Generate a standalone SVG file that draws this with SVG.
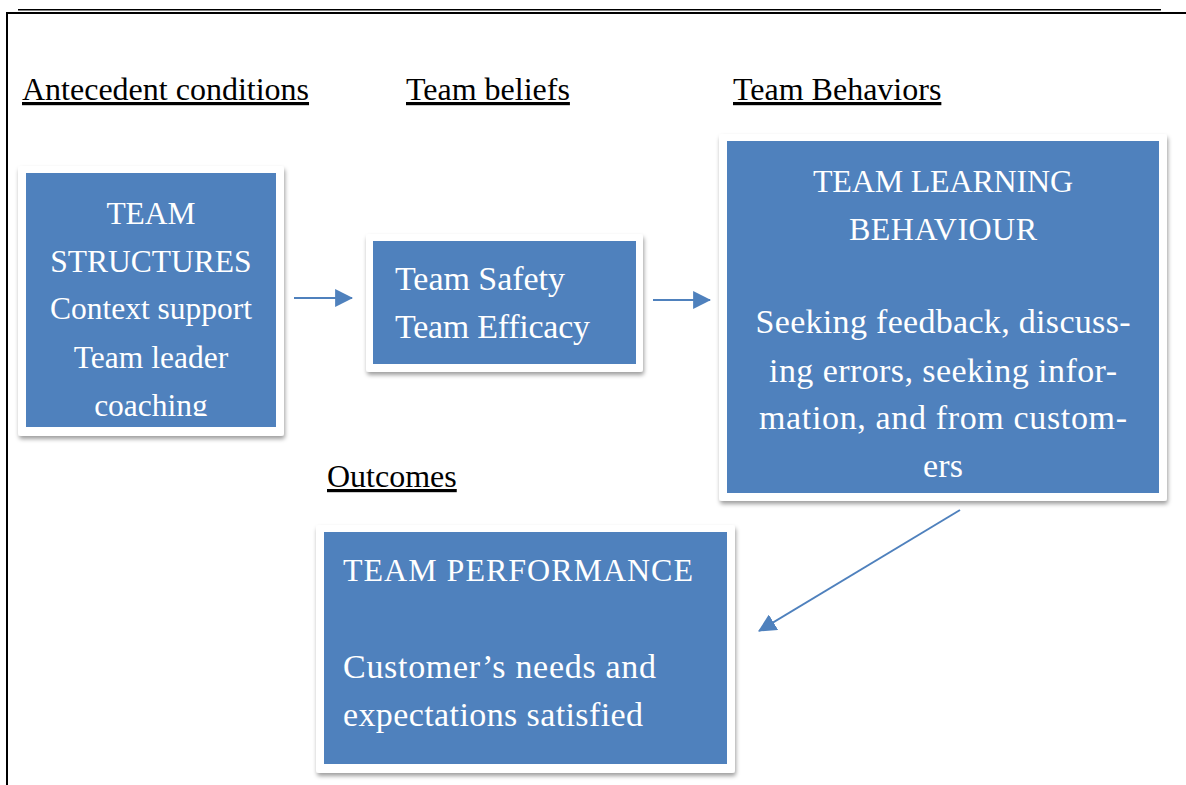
<svg xmlns="http://www.w3.org/2000/svg" width="1186" height="785" viewBox="0 0 1186 785">
<style>
.frame{stroke:#000;fill:none}
.head{font-family:"Liberation Serif","Times New Roman",serif;font-size:32px;fill:#000;text-decoration:underline}
.card{fill:#fff;filter:url(#sh)}
.blue{fill:#4F81BD}
.tx{font-family:"Liberation Serif","Times New Roman",serif;font-size:31.5px;fill:#fff}
.pt{font-family:"Liberation Serif","Palatino Linotype",serif;font-size:34px;fill:#fff}
.cap{font-size:32px}
.mid{text-anchor:middle}
.conn{stroke:#4F81BD;stroke-width:2;fill:none;marker-end:url(#ah)}
</style>
<defs>
<filter id="sh" x="-10%" y="-10%" width="120%" height="125%">
<feDropShadow dx="1" dy="3" stdDeviation="2.2" flood-color="#000" flood-opacity="0.38"/>
</filter>
<marker id="ah" markerUnits="userSpaceOnUse" markerWidth="18" markerHeight="18" viewBox="0 0 16 16" refX="15" refY="8" orient="auto">
<path d="M0,0 L16,8 L0,16 Z" fill="#4F81BD"/>
</marker>
<clipPath id="c1"><rect x="26" y="173" width="250" height="243"/></clipPath>
</defs>
<rect width="1186" height="785" fill="#fff"/>
<g id="page-frame">
<line class="frame" x1="18" y1="9.8" x2="1161" y2="9.8" stroke-width="1.6"/>
<line class="frame" x1="6" y1="13" x2="1186" y2="13" stroke-width="1.8"/>
<line class="frame" x1="7" y1="12" x2="7" y2="785" stroke-width="2"/>
</g>
<g id="headings">
<text class="head" x="22" y="100">Antecedent conditions</text>
<text class="head" x="406" y="100">Team beliefs</text>
<text class="head" x="733" y="100">Team Behaviors</text>
<text class="head" x="327" y="487">Outcomes</text>
</g>
<g id="node-team-structures">
<rect class="card" x="18" y="166" width="266" height="270" rx="3"/>
<rect class="blue" x="26" y="173" width="250" height="254"/>
<g clip-path="url(#c1)">
<text class="tx mid" x="151" y="224">TEAM</text>
<text class="tx mid" x="151" y="272">STRUCTURES</text>
<text class="tx mid" x="151" y="319">Context support</text>
<text class="tx mid" x="151" y="368">Team leader</text>
<text class="tx mid" x="151" y="416">coaching</text>
</g>
</g>
<g id="node-team-beliefs">
<rect class="card" x="366" y="234" width="277" height="138" rx="3"/>
<rect class="blue" x="373" y="241" width="263" height="123"/>
<text class="pt" x="395" y="290" textLength="170">Team Safety</text>
<text class="pt" x="395" y="338" textLength="195">Team Efficacy</text>
</g>
<g id="node-team-learning">
<rect class="card" x="719" y="134" width="448" height="367" rx="3"/>
<rect class="blue" x="727" y="141" width="432" height="352"/>
<text class="pt cap mid" x="943" y="192" textLength="260">TEAM LEARNING</text>
<text class="pt cap mid" x="943" y="240" textLength="188">BEHAVIOUR</text>
<text class="pt mid" x="943" y="333" textLength="375">Seeking feedback, discuss-</text>
<text class="pt mid" x="943" y="382" textLength="348">ing errors, seeking infor-</text>
<text class="pt mid" x="943" y="429" textLength="368">mation, and from custom-</text>
<text class="pt mid" x="943" y="477" textLength="40">ers</text>
</g>
<g id="node-team-performance">
<rect class="card" x="316" y="525" width="419" height="248" rx="3"/>
<rect class="blue" x="324" y="532" width="403" height="232"/>
<text class="pt cap" x="343" y="581" textLength="350">TEAM PERFORMANCE</text>
<text class="pt" x="343" y="678" textLength="313">Customer’s needs and</text>
<text class="pt" x="343" y="726" textLength="300">expectations satisfied</text>
</g>
<g id="connectors">
<line class="conn" x1="294" y1="298" x2="352" y2="298"/>
<line class="conn" x1="653" y1="300" x2="710" y2="300"/>
<line class="conn" x1="960" y1="510" x2="759" y2="631"/>
</g>
</svg>
